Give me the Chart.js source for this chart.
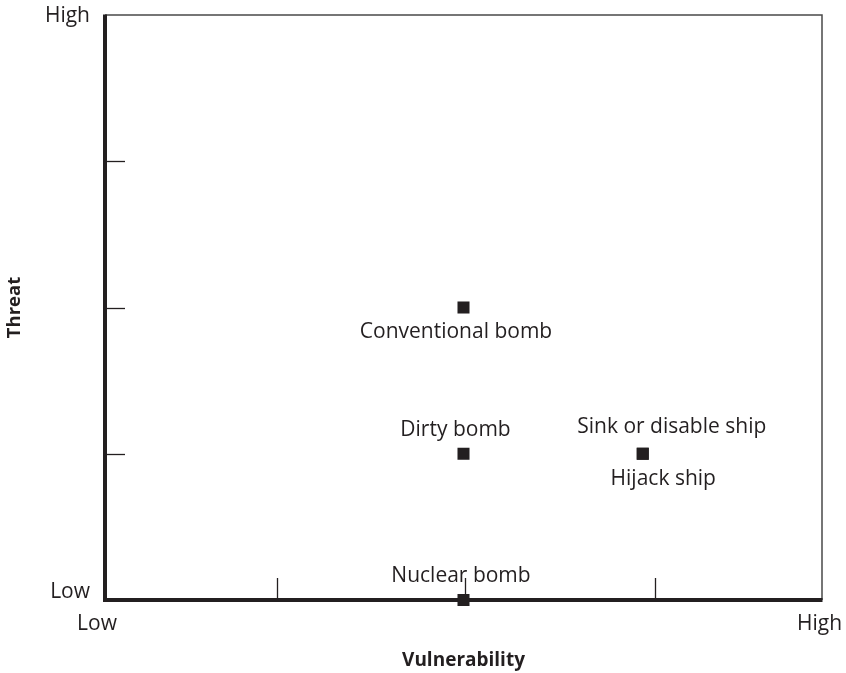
<!DOCTYPE html>
<html>
<head>
<meta charset="utf-8">
<script src="https://cdn.jsdelivr.net/npm/chart.js@4.4.1/dist/chart.umd.min.js"></script>
<style>
  html, body { margin: 0; padding: 0; background: #fff; }
  #wrap { width: 846px; height: 673px; }
</style>
</head>
<body>
<div id="wrap"><canvas id="threatChart"></canvas></div>
<script>
// Threat vs vulnerability, scale 0 (Low) .. 4 (High)
const scenarioNames = ['Conventional bomb', 'Dirty bomb', 'Sink or disable ship', 'Hijack ship', 'Nuclear bomb'];
const vulnerabilityValues = [2, 2, 3, 3, 2];
const threatValues = [2, 1, 1, 1, 0];
const axisEndValues = [0, 4];
const axisEndLabels = ['Low', 'High'];
const xTickMarks = [0.96, 2.01, 3.07];
const yTickMarks = [1, 2, 3];

// where each name sits relative to its marker (px)
const labelOffsets = [[-7.5, 25], [-8, -24], [29, -27], [20.5, 25], [-2.5, -24]];
// small nudges for the Low / High end labels (px)
const xEndNudge = [-8, -2.5];
const yEndNudge = [-8, 1];

const ink = '#231f20';
const fontFamily = '"Open Sans", "DejaVu Sans", sans-serif';

const points = vulnerabilityValues.map((v, i) => ({ x: v, y: threatValues[i] }));

const frameAndTicks = {
    id: 'frameAndTicks',
    beforeDatasetsDraw(chart) {
        const ctx = chart.ctx;
        const a = chart.chartArea;
        const xs = chart.scales.x, ys = chart.scales.y;
        ctx.save();
        ctx.strokeStyle = ink;
        ctx.lineWidth = 1.3;
        xTickMarks.forEach(v => {
            const px = Math.round(xs.getPixelForValue(v)) + 0.5;
            ctx.beginPath();
            ctx.moveTo(px, a.bottom);
            ctx.lineTo(px, a.bottom - 22);
            ctx.stroke();
        });
        yTickMarks.forEach(v => {
            const py = Math.round(ys.getPixelForValue(v)) + 0.5;
            ctx.beginPath();
            ctx.moveTo(a.left, py);
            ctx.lineTo(a.left + 20, py);
            ctx.stroke();
        });
        // thin top and right edges
        ctx.strokeStyle = '#4a4a4a';
        ctx.lineWidth = 1.5;
        ctx.beginPath();
        ctx.moveTo(a.left, a.top);
        ctx.lineTo(a.right, a.top);
        ctx.lineTo(a.right, a.bottom);
        ctx.stroke();
        // heavy left and bottom axes
        ctx.strokeStyle = ink;
        ctx.lineWidth = 4;
        ctx.beginPath();
        ctx.moveTo(a.left, a.top - 0.5);
        ctx.lineTo(a.left, a.bottom);
        ctx.lineTo(a.right + 0.5, a.bottom);
        ctx.stroke();

        // Low / High at the ends of both axes
        ctx.fillStyle = ink;
        ctx.font = '21px ' + fontFamily;
        ctx.textBaseline = 'middle';
        ctx.textAlign = 'center';
        axisEndValues.forEach((v, i) => {
            ctx.fillText(axisEndLabels[i], xs.getPixelForValue(v) + xEndNudge[i], a.bottom + 24);
        });
        ctx.textAlign = 'right';
        axisEndValues.forEach((v, i) => {
            ctx.fillText(axisEndLabels[i], a.left - 15, ys.getPixelForValue(v) + yEndNudge[i]);
        });
        ctx.restore();
    },
    afterDatasetsDraw(chart) {
        const ctx = chart.ctx;
        const xs = chart.scales.x, ys = chart.scales.y;
        ctx.save();
        ctx.fillStyle = ink;
        ctx.font = '21px ' + fontFamily;
        ctx.textAlign = 'center';
        ctx.textBaseline = 'middle';
        scenarioNames.forEach((name, i) => {
            const px = xs.getPixelForValue(vulnerabilityValues[i]);
            const py = ys.getPixelForValue(threatValues[i]);
            ctx.fillText(name, px + labelOffsets[i][0], py + labelOffsets[i][1]);
        });
        ctx.restore();
    }
};

new Chart(document.getElementById('threatChart'), {
    type: 'scatter',
    data: {
        datasets: [{
            label: 'Scenarios',
            data: points,
            clip: false,
            pointStyle: 'rect',
            pointRadius: 8.5,
            pointHoverRadius: 8.5,
            pointBorderWidth: 0,
            backgroundColor: ink,
            borderColor: ink
        }]
    },
    plugins: [frameAndTicks],
    options: {
        responsive: true,
        maintainAspectRatio: false,
        animation: false,
        layout: { padding: { top: 15, right: 24, bottom: 0, left: 0 } },
        plugins: {
            legend: { display: false },
            tooltip: { enabled: false }
        },
        scales: {
            x: {
                type: 'linear',
                min: 0,
                max: 4,
                afterFit: s => { s.height = 73; },
                border: { display: false },
                grid: { display: false, drawTicks: false },
                ticks: { display: false },
                title: {
                    display: true,
                    text: 'Vulnerability',
                    color: ink,
                    font: { family: fontFamily, size: 19, weight: 'bold' },
                    padding: { top: 0, bottom: 0.6 }
                }
            },
            y: {
                type: 'linear',
                min: 0,
                max: 4,
                afterFit: s => { s.width = 105; },
                border: { display: false },
                grid: { display: false, drawTicks: false },
                ticks: { display: false },
                title: {
                    display: true,
                    text: 'Threat',
                    color: ink,
                    font: { family: fontFamily, size: 18.5, weight: 'bold' },
                    padding: { top: 4, bottom: 0 }
                }
            }
        }
    }
});
</script>
</body>
</html>
